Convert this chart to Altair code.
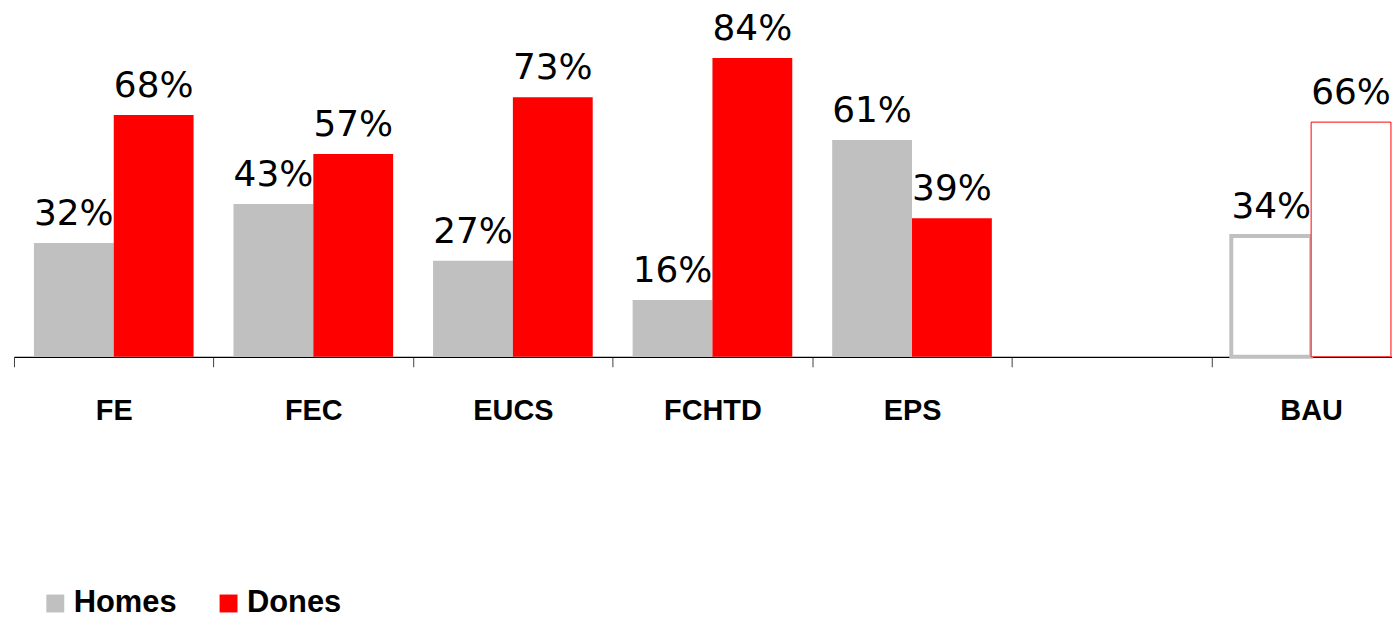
import altair as alt
import pandas as pd

categories = ["FE", "FEC", "EUCS", "FCHTD", "EPS", " ", "BAU"]
bar_categories = ["FE", "FEC", "EUCS", "FCHTD", "EPS", "BAU"]
homes = [32, 43, 27, 16, 61, 34]
dones = [68, 57, 73, 84, 39, 66]
series = ["Homes", "Dones"]
colors = ["#c0c0c0", "#ff0000"]
outlined = ["BAU"]

rows = []
for c, h, d in zip(bar_categories, homes, dones):
    rows.append({"cat": c, "series": "Homes", "value": h, "outline": c in outlined})
    rows.append({"cat": c, "series": "Dones", "value": d, "outline": c in outlined})
df = pd.DataFrame(rows)

H = 349
ymax = H / 3.5714

x = alt.X("cat:N", scale=alt.Scale(domain=categories, range=[0, 1403], paddingInner=0, paddingOuter=0),
          sort=categories,
          axis=alt.Axis(title=None, labelAngle=0, tickBand="extent", tickSize=10, tickColor="#404040",
                        domainColor="#000000", domainWidth=1.2, labelFont="Liberation Sans",
                        labelFontWeight="bold", labelFontSize=29, labelColor="#000000",
                        labelBaseline="alphabetic", labelPadding=53, grid=False))
xo = alt.XOffset("series:N", scale=alt.Scale(domain=series, paddingOuter=0.25, paddingInner=0), sort=series)
y = alt.Y("value:Q", scale=alt.Scale(domain=[0, ymax], nice=False, zero=True), axis=None)

base = alt.Chart(df)

filled = base.transform_filter("!datum.outline").mark_bar().encode(
    x=x, xOffset=xo, y=y,
    color=alt.Color("series:N", scale=alt.Scale(domain=series, range=colors), sort=series,
                    legend=alt.Legend(title=None, orient="none", legendX=26, legendY=581,
                                      direction="horizontal", symbolType="square", symbolSize=324,
                                      symbolStrokeWidth=0, symbolOpacity=1, labelFont="Liberation Sans",
                                      labelFontWeight="bold", labelFontSize=31, labelColor="#000000",
                                      labelOffset=3, columnPadding=36)),
)

outline = base.transform_filter("datum.outline").mark_bar(fill="#ffffff").encode(
    x=x, xOffset=xo, y=y,
    stroke=alt.Stroke("series:N", scale=alt.Scale(domain=series, range=colors), legend=None),
    strokeWidth=alt.condition("datum.series == 'Homes'", alt.value(4), alt.value(1)),
)

labels = base.transform_calculate(lab="datum.value + '%'").mark_text(
    font="DejaVu Sans", fontSize=36, color="#000000", baseline="alphabetic", dy=-18
).encode(x=x, xOffset=xo, y=y, text="lab:N")

chart = alt.layer(filled, outline, labels).properties(
    width=1384, height=H,
    autosize=alt.AutoSizeParams(type="none"),
    padding={"left": 6, "top": 0, "right": 0, "bottom": 262},
).configure_view(stroke=None)

chart.save("out.html", embed_options={"renderer": "svg", "actions": False})
